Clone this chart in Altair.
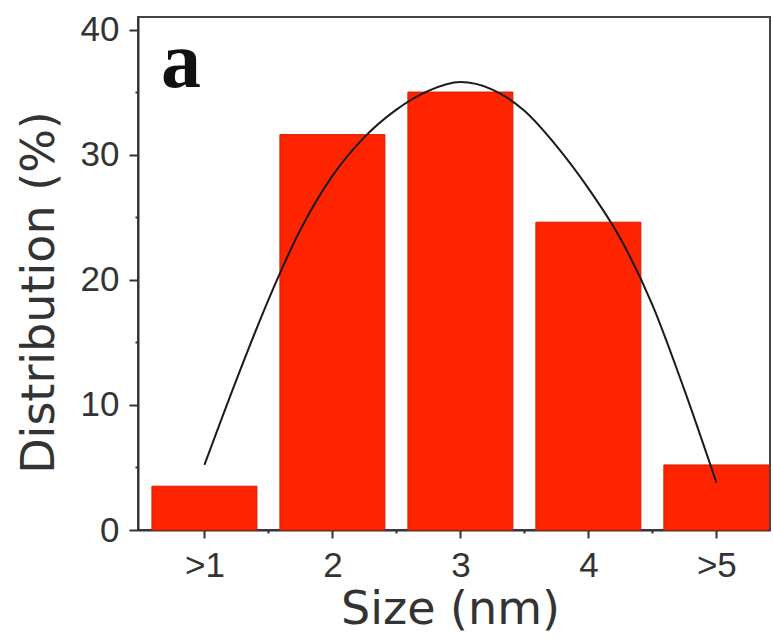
import altair as alt
import pandas as pd

# Particle size histogram (bar per size class) with a fitted distribution curve
sizes = [1, 2, 3, 4, 5]
size_labels = [">1", "2", "3", "4", ">5"]
distribution = [3.5, 31.6, 35.0, 24.6, 5.2]

fit_x = [1.0, 1.25, 1.5, 1.75, 2.0, 2.25, 2.5, 2.75, 3.0,
         3.25, 3.5, 3.75, 4.0, 4.25, 4.5, 4.75, 5.0]
fit_y = [5.2, 12.0, 18.4, 24.0, 28.3, 31.4, 33.6, 35.1, 35.8,
         35.2, 33.5, 30.7, 27.3, 23.3, 18.0, 11.2, 3.8]

x_ticks = [1, 1.5, 2, 2.5, 3, 3.5, 4, 4.5, 5]
y_ticks = [0, 5, 10, 15, 20, 25, 30, 35, 40]

bars_df = pd.DataFrame({"size": sizes, "dist": distribution})
fit_df = pd.DataFrame({"size": fit_x, "dist": fit_y})

label_array = "[" + ",".join("'" + s + "'" for s in size_labels) + "]"
x_label_expr = f"datum.value % 1 ? '' : {label_array}[datum.value - 1]"

x_scale = alt.Scale(domain=[0.52, 5.38], nice=False, zero=False)
y_scale = alt.Scale(domain=[0, 41], nice=False)

x_axis = alt.Axis(
    values=x_ticks,
    labelExpr=x_label_expr,
    tickSize={"condition": {"test": "datum.value % 1", "value": 3}, "value": 8},
    labelPadding=10,
    title="Size (nm)",
    titleX=312,
    titleY=93,
    titleAlign="center",
    titleBaseline="alphabetic",
)
y_axis = alt.Axis(
    values=y_ticks,
    labelExpr="datum.value % 10 ? '' : datum.label",
    tickSize={"condition": {"test": "datum.value % 10", "value": 3}, "value": 9},
    labelPadding=10,
    title="Distribution (%)",
    titleAngle=270,
    titleX=-85,
    titleY=275,
    titleAlign="center",
    titleBaseline="alphabetic",
)

bars = alt.Chart(bars_df).mark_bar(
    size=105, color="#ff2400", stroke="#d81c00", strokeWidth=1
).encode(
    x=alt.X("size:Q", scale=x_scale, axis=x_axis),
    y=alt.Y("dist:Q", scale=y_scale, axis=y_axis),
)

fit = alt.Chart(fit_df).mark_line(
    color="#1a1a1a", strokeWidth=2, interpolate="monotone"
).encode(
    x=alt.X("size:Q", scale=x_scale),
    y=alt.Y("dist:Q", scale=y_scale),
)

panel_label = alt.Chart(pd.DataFrame({"t": ["a"]})).mark_text(
    font="Liberation Serif", fontWeight="bold", fontSize=80,
    align="left", baseline="alphabetic", color="#111",
).encode(text="t:N", x=alt.value(23), y=alt.value(70))

chart = (
    alt.layer(bars, fit, panel_label)
    .properties(
        width=632,
        height=513,
        autosize=alt.AutoSizeParams(type="none"),
        padding={"left": 138, "top": 17, "right": 3, "bottom": 111},
    )
    .configure_view(stroke="#444", strokeWidth=2)
    .configure_axis(
        grid=False,
        domainColor="#333",
        domainWidth=2,
        tickColor="#333",
        tickWidth=2,
        labelFont="Liberation Sans",
        labelFontSize=35,
        labelColor="#333",
        titleFont="DejaVu Sans",
        titleFontSize=46,
        titleFontWeight="normal",
        titleColor="#333",
    )
)

chart.save("out.html", embed_options={"renderer": "svg", "actions": False})
